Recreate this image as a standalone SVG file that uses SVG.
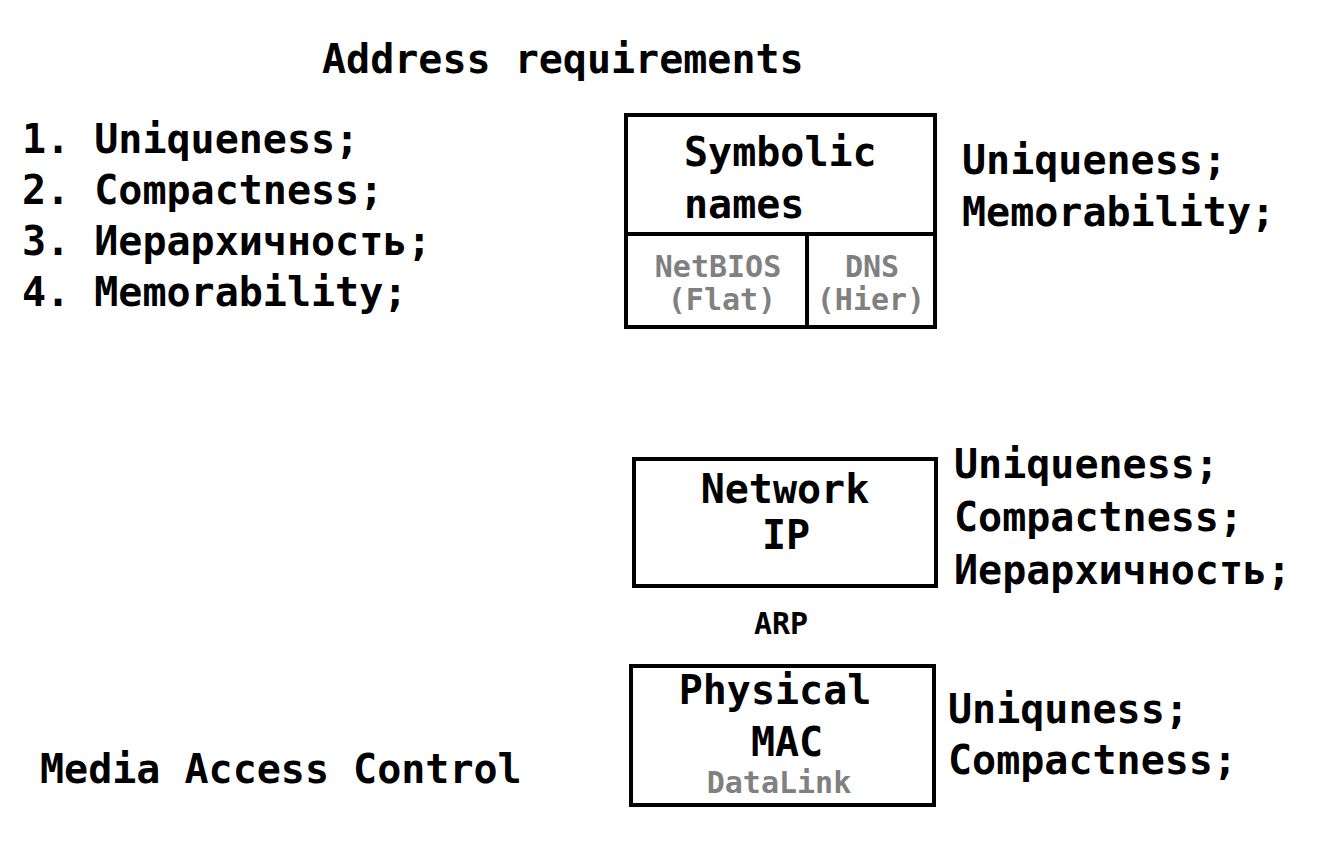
<svg xmlns="http://www.w3.org/2000/svg" width="1344" height="844" viewBox="0 0 1344 844">
<style>
  text { font-family: "DejaVu Sans Mono", "Liberation Mono", monospace; font-weight: bold; fill: #000; }
  .big { font-size: 40px; }
  .small { font-size: 30px; }
  .grey { fill: #808080; }
  .mid { text-anchor: middle; }
  .box { fill: #fff; stroke: #000; stroke-width: 4; }
  .div { stroke: #000; stroke-width: 4; fill: none; }
</style>
<rect width="1344" height="844" fill="#fff"/>

<g id="title">
  <text class="big" x="322" y="73">Address requirements</text>
</g>

<g id="requirements-list">
  <text class="big" x="22" y="153">1. Uniqueness;</text>
  <text class="big" x="22" y="204">2. Compactness;</text>
  <text class="big" x="22" y="255">3. Иерархичность;</text>
  <text class="big" x="22" y="306">4. Memorability;</text>
</g>

<g id="symbolic-names">
  <rect class="box" x="626" y="115" width="309" height="212"/>
  <line class="div" x1="626" y1="234" x2="935" y2="234"/>
  <line class="div" x1="807" y1="234" x2="807" y2="327"/>
  <text class="big" x="684" y="166">Symbolic</text>
  <text class="big" x="684" y="218">names</text>
  <text class="small grey mid" x="718" y="277">NetBIOS</text>
  <text class="small grey mid" x="722" y="310">(Flat)</text>
  <text class="small grey mid" x="872" y="277">DNS</text>
  <text class="small grey mid" x="871" y="310">(Hier)</text>
</g>
<g id="symbolic-props">
  <text class="big" x="962" y="174">Uniqueness;</text>
  <text class="big" x="962" y="226">Memorability;</text>
</g>

<g id="network">
  <rect class="box" x="634" y="459" width="302" height="127"/>
  <text class="big mid" x="785" y="503">Network</text>
  <text class="big mid" x="786" y="549">IP</text>
</g>
<g id="network-props">
  <text class="big" x="954" y="478">Uniqueness;</text>
  <text class="big" x="954" y="531">Compactness;</text>
  <text class="big" x="954" y="584">Иерархичность;</text>
</g>

<g id="connectors">
  <text class="small mid" x="781" y="634">ARP</text>
</g>

<g id="physical">
  <rect class="box" x="631" y="666" width="303" height="139"/>
  <text class="big mid" x="775" y="704">Physical</text>
  <text class="big mid" x="787" y="756">MAC</text>
  <text class="small grey mid" x="779" y="793">DataLink</text>
</g>
<g id="physical-props">
  <text class="big" x="948" y="723">Uniquness;</text>
  <text class="big" x="948" y="774">Compactness;</text>
</g>

<g id="mac-label">
  <text class="big" x="40" y="783">Media Access Control</text>
</g>
</svg>
